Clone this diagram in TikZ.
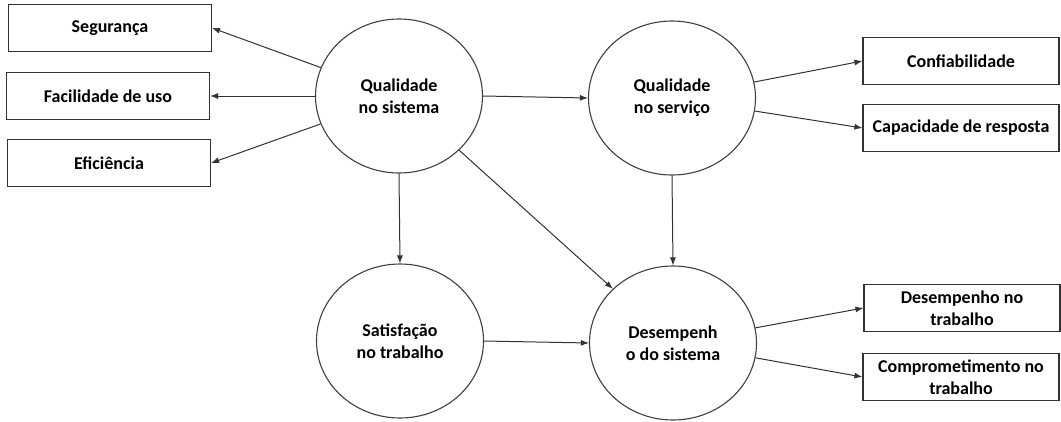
\documentclass[tikz,border=0pt]{standalone}
\usepackage{fontspec}
\setmainfont{Carlito}
\usetikzlibrary{shapes.geometric,arrows.meta}
\begin{document}
\begin{tikzpicture}[x=1pt,y=-1pt,
  every node/.style={font=\bfseries\fontsize{18}{22}\selectfont, align=center, text=black},
  box/.style={draw=black!80, line width=1.1pt, rectangle, minimum height=47pt, inner sep=0pt},
  lbox/.style={box, minimum width=203pt},
  rbox/.style={box, minimum width=196pt},
  oval/.style={draw=black!75, line width=1.1pt, ellipse, minimum width=167pt, minimum height=154pt, inner sep=0pt},
  arr/.style={draw=black!80, line width=1pt, -{Latex[length=8pt,width=6pt]}}]
\useasboundingbox (0,0) rectangle (1061,421);
\node[lbox] (seg) at (110,28) {Segurança};
\node[lbox] (fac) at (108,96) {Facilidade de uso};
\node[lbox] (efi) at (109,163) {Eficiência};
\node[oval] (qs) at (399,96) {Qualidade\\no sistema};
\node[oval] (qv) at (672,98) {Qualidade\\no serviço};
\node[oval] (sat) at (400,341) {Satisfação\\no trabalho};
\node[oval] (des) at (673,343) {Desempenh\\o do sistema};
\node[rbox] (conf) at (961,61) {Confiabilidade};
\node[rbox] (cap) at (961,128) {Capacidade de resposta};
\node[rbox] (dt) at (962,308) {Desempenho no\\trabalho};
\node[rbox] (ct) at (961,377) {Comprometimento no\\trabalho};
\draw[arr] (qs) -- (seg.east);
\draw[arr] (qs) -- (fac.east);
\draw[arr] (qs) -- (efi.east);
\draw[arr] (qs.east) -- (qv.west);
\draw[arr] (qv) -- (conf.west);
\draw[arr] (qv) -- (cap.west);
\draw[arr] (qs.south) -- (sat.north);
\draw[arr] (qs) -- (des);
\draw[arr] (qv.south) -- (des.north);
\draw[arr] (sat.east) -- (des.west);
\draw[arr] (des) -- (dt.west);
\draw[arr] (des) -- (ct.west);
\end{tikzpicture}
\end{document}
